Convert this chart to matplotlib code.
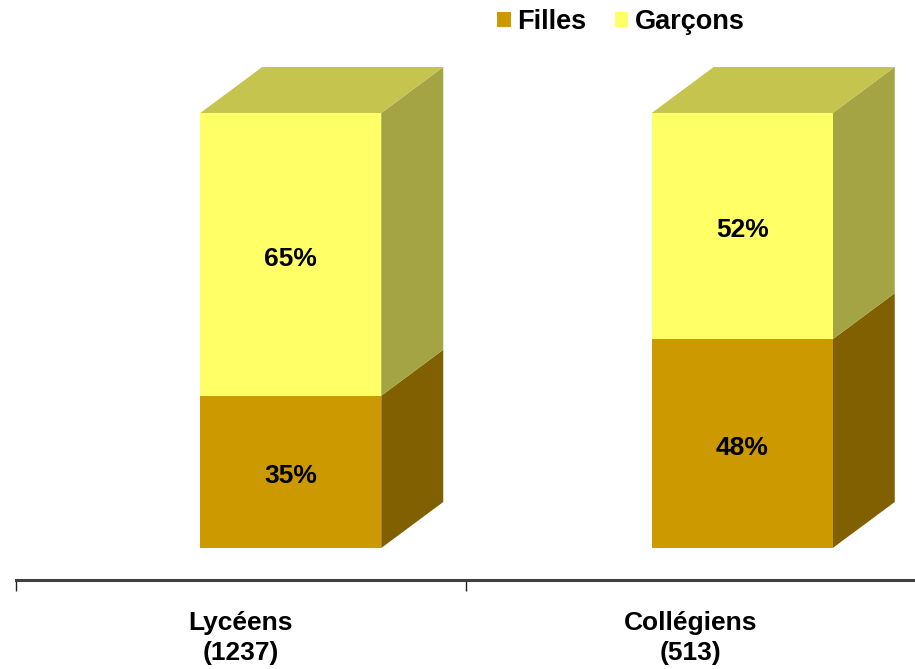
import matplotlib
matplotlib.use("Agg")
import matplotlib.pyplot as plt
from matplotlib.patches import Polygon, Patch

categories = ["Lycéens\n(1237)", "Collégiens\n(513)"]
filles = [35, 48]
garcons = [65, 52]
series_names = ["Filles", "Garçons"]

front_colors = ["#CC9900", "#FFFF66"]
side_colors = ["#806000", "#A4A444"]
top_color = "#C4C44F"

plt.rcParams['font.family'] = ['Liberation Sans', 'DejaVu Sans']

W, H = 915, 669
fig = plt.figure(figsize=(W / 100, H / 100), dpi=100)
ax_left, ax_right = 16, 915
ax_bot, ax_top = 548, 113
ax = fig.add_axes([ax_left / W, (H - ax_bot) / H, (ax_right - ax_left) / W, (ax_bot - ax_top) / H])
ax.set_xlim(-0.5, 1.5)
ax.set_ylim(0, 100)

px_x = 2.0 / (ax_right - ax_left)
px_y = 100.0 / (ax_bot - ax_top)
offsets = [50 * px_x, 52 * px_x]
width = 181 * px_x
dx = 62 * px_x
dy = 46 * px_y

for i in range(len(categories)):
    xc = i + offsets[i]
    x0 = xc - width / 2
    x1 = x0 + width
    bottom = 0
    for vals, fc, sc in [(filles, front_colors[0], side_colors[0]), (garcons, front_colors[1], side_colors[1])]:
        v = vals[i]
        ax.bar(xc, v, width=width, bottom=bottom, color=fc, linewidth=0, zorder=2)
        side = Polygon([(x1, bottom), (x1 + dx, bottom + dy), (x1 + dx, bottom + v + dy), (x1, bottom + v)],
                       closed=True, facecolor=sc, edgecolor='none', clip_on=False, zorder=1)
        ax.add_patch(side)
        pct = v / (filles[i] + garcons[i]) * 100
        ax.text(xc, bottom + v / 2 - 1, f"{pct:.0f}%", ha='center', va='center',
                fontsize=19, fontweight='bold', color='black', zorder=3)
        bottom += v
    top = Polygon([(x0, bottom), (x0 + dx, bottom + dy), (x1 + dx, bottom + dy), (x1, bottom)],
                  closed=True, facecolor=top_color, edgecolor='none', clip_on=False, zorder=1)
    ax.add_patch(top)

for s in ['top', 'right', 'left']:
    ax.spines[s].set_visible(False)
ax.spines['bottom'].set_position(('outward', 32 * 72 / 100))
ax.spines['bottom'].set_color('#404040')
ax.spines['bottom'].set_linewidth(2.2)
ax.set_yticks([])
ax.set_xticks(range(len(categories)))
ax.set_xticklabels(categories, fontsize=19, fontweight='bold', linespacing=1.35)
ax.tick_params(axis='x', which='major', length=0, pad=22)
ax.set_xticks([-0.5, 0.5], minor=True)
ax.tick_params(axis='x', which='minor', length=8, width=1.0, color='#202020', direction='out')

handles = [Patch(facecolor=front_colors[0], edgecolor='none'), Patch(facecolor=front_colors[1], edgecolor='none')]
fig.legend(handles, series_names, loc='center left', bbox_to_anchor=(497 / W, 1 - 22 / H),
           ncol=2, frameon=False, prop={'weight': 'bold', 'size': 19.5},
           handlelength=0.5, handleheight=0.5, handletextpad=0.25, columnspacing=1.05, borderpad=0, borderaxespad=0)

fig.savefig("out.png", dpi=100)
